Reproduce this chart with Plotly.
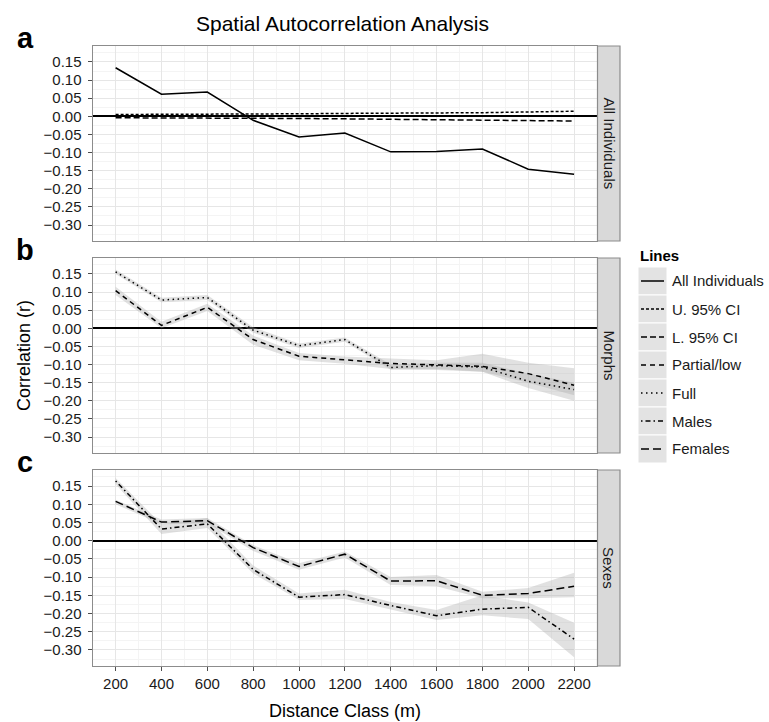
import plotly.graph_objects as go

# ---------------- data ----------------
distance = [200, 400, 600, 800, 1000, 1200, 1400, 1600, 1800, 2000, 2200]

all_individuals = [0.134, 0.061, 0.067, -0.011, -0.057, -0.046, -0.098, -0.097, -0.090, -0.146, -0.160]
upper_ci = [0.005, 0.005, 0.005, 0.006, 0.007, 0.008, 0.008, 0.009, 0.010, 0.012, 0.014]
lower_ci = [-0.004, -0.004, -0.004, -0.005, -0.006, -0.007, -0.008, -0.009, -0.010, -0.011, -0.013]

partial_low = [0.104, 0.008, 0.058, -0.031, -0.077, -0.086, -0.097, -0.101, -0.105, -0.125, -0.157]
partial_low_hi = [0.115, 0.018, 0.068, -0.020, -0.068, -0.078, -0.083, -0.088, -0.070, -0.095, -0.110]
partial_low_lo = [0.092, 0.000, 0.048, -0.045, -0.088, -0.098, -0.112, -0.115, -0.120, -0.150, -0.185]

full = [0.156, 0.078, 0.085, -0.005, -0.048, -0.031, -0.108, -0.103, -0.107, -0.146, -0.169]
full_hi = [0.162, 0.084, 0.092, 0.003, -0.042, -0.025, -0.100, -0.095, -0.095, -0.125, -0.150]
full_lo = [0.150, 0.072, 0.078, -0.012, -0.054, -0.037, -0.114, -0.112, -0.120, -0.165, -0.200]

males = [0.164, 0.032, 0.046, -0.079, -0.155, -0.148, -0.178, -0.206, -0.188, -0.183, -0.270]
males_hi = [0.172, 0.045, 0.062, -0.068, -0.145, -0.135, -0.168, -0.190, -0.150, -0.170, -0.225]
males_lo = [0.155, 0.018, 0.035, -0.090, -0.163, -0.160, -0.190, -0.218, -0.205, -0.215, -0.320]

females = [0.108, 0.051, 0.055, -0.019, -0.071, -0.037, -0.111, -0.110, -0.150, -0.145, -0.125]
females_hi = [0.112, 0.058, 0.062, -0.012, -0.062, -0.030, -0.100, -0.094, -0.140, -0.130, -0.088]
females_lo = [0.100, 0.045, 0.048, -0.028, -0.080, -0.046, -0.122, -0.125, -0.158, -0.158, -0.155]

facet_names = ["All Individuals", "Morphs", "Sexes"]
panel_letters = ["a", "b", "c"]
legend_labels = ["All Individuals", "U. 95% CI", "L. 95% CI", "Partial/low", "Full", "Males", "Females"]

# ---------------- styles ----------------
W, H = 769, 722
FONT = "Liberation Sans, Arial, Helvetica, sans-serif"
DASH = {
    "All Individuals": "solid",
    "U. 95% CI": "3px,2px",
    "L. 95% CI": "6px,3px",
    "Partial/low": "5px,4px",
    "Full": "1.5px,3.5px",
    "Males": "1.5px,3px,5px,3px",
    "Females": "8px,4px",
}
RIBBON = "rgba(170,170,170,0.35)"
LW = 1.5


def px_x(x):
    return x / W


def px_y(y):
    return 1 - y / H


# panel pixel boxes (top, bottom)
panels = [(46, 241), (258, 453), (470, 666)]
X_L, X_R = 92.7, 597
STRIP_R = 620

fig = go.Figure()


def add_line(idx, y, name):
    ax = "" if idx == 0 else str(idx + 1)
    fig.add_trace(go.Scatter(
        x=distance, y=y, mode="lines", name=name, showlegend=False,
        line=dict(color="black", width=LW, dash=DASH[name]),
        xaxis="x" + ax, yaxis="y" + ax, hoverinfo="x+y+name"))


def add_ribbon(idx, hi, lo, name):
    ax = "" if idx == 0 else str(idx + 1)
    xs = distance + distance[::-1]
    ys = hi + lo[::-1]
    fig.add_trace(go.Scatter(
        x=xs, y=ys, mode="lines", fill="toself", fillcolor=RIBBON,
        line=dict(width=0), showlegend=False, hoverinfo="skip", name=name,
        xaxis="x" + ax, yaxis="y" + ax))


# panel a
add_line(0, upper_ci, "U. 95% CI")
add_line(0, lower_ci, "L. 95% CI")
add_line(0, all_individuals, "All Individuals")
# panel b
add_ribbon(1, partial_low_hi, partial_low_lo, "Partial/low")
add_ribbon(1, full_hi, full_lo, "Full")
add_line(1, partial_low, "Partial/low")
add_line(1, full, "Full")
# panel c
add_ribbon(2, males_hi, males_lo, "Males")
add_ribbon(2, females_hi, females_lo, "Females")
add_line(2, males, "Males")
add_line(2, females, "Females")

tickfont = dict(family=FONT, size=15, color="#1a1a1a")
layout = dict(
    width=W, height=H, margin=dict(l=0, r=0, t=0, b=0),
    paper_bgcolor="white", plot_bgcolor="white",
    font=dict(family=FONT, color="black"),
    showlegend=False,
)

for i, (top, bot) in enumerate(panels):
    sx = "" if i == 0 else str(i + 1)
    layout["xaxis" + sx] = dict(
        domain=[px_x(X_L), px_x(X_R)], anchor="y" + sx,
        range=[100, 2300], tick0=200, dtick=200,
        showticklabels=(i == 2), ticks="outside" if i == 2 else "",
        ticklen=4, tickcolor="#4d4d4d", tickwidth=1,
        tickfont=tickfont,
        showgrid=True, gridcolor="#e6e6e6", gridwidth=1,
        minor=dict(dtick=100, tick0=100, showgrid=True, gridcolor="#f4f4f4", ticks=""),
        showline=True, mirror=True, linecolor="#8c8c8c", linewidth=1.3,
        zeroline=False,
    )
    layout["yaxis" + sx] = dict(
        domain=[px_y(bot), px_y(top)], anchor="x" + sx,
        range=[-0.344, 0.194], tick0=0, dtick=0.05, tickformat=".2f",
        ticks="outside", ticklen=4, tickcolor="#4d4d4d", tickwidth=1,
        tickfont=tickfont, ticklabelstandoff=3,
        showgrid=True, gridcolor="#e6e6e6", gridwidth=1,
        minor=dict(dtick=0.025, tick0=0.025, showgrid=True, gridcolor="#f4f4f4", ticks=""),
        showline=True, mirror=True, linecolor="#8c8c8c", linewidth=1.3,
        zeroline=True, zerolinecolor="black", zerolinewidth=1.6,
    )

shapes = []
annotations = []

# strips
for i, (top, bot) in enumerate(panels):
    shapes.append(dict(type="rect", xref="paper", yref="paper",
                       x0=px_x(X_R + 0.5), x1=px_x(STRIP_R), y0=px_y(bot), y1=px_y(top),
                       fillcolor="#d9d9d9", line=dict(color="#8c8c8c", width=1.2), layer="above"))
    annotations.append(dict(text=facet_names[i], xref="paper", yref="paper",
                            x=px_x((X_R + STRIP_R) / 2 + 0.5), y=px_y((top + bot) / 2),
                            textangle=90, showarrow=False,
                            font=dict(family=FONT, size=15, color="#1a1a1a"),
                            xanchor="center", yanchor="middle"))
    # panel letters (shared baseline relative to panel top)
    annotations.append(dict(text="<b>%s</b>" % panel_letters[i], xref="paper", yref="paper",
                            x=px_x(25), y=px_y(top + 10), showarrow=False,
                            font=dict(family=FONT, size=29, color="black"),
                            xanchor="center", yanchor="bottom"))

# title & axis titles
annotations.append(dict(text="Spatial Autocorrelation Analysis", xref="paper", yref="paper",
                        x=px_x(342), y=px_y(23), showarrow=False,
                        font=dict(family=FONT, size=21, color="black"),
                        xanchor="center", yanchor="middle"))
annotations.append(dict(text="Distance Class (m)", xref="paper", yref="paper",
                        x=px_x((X_L + X_R) / 2), y=px_y(711), showarrow=False,
                        font=dict(family=FONT, size=18, color="black"),
                        xanchor="center", yanchor="middle"))
annotations.append(dict(text="Correlation (r)", xref="paper", yref="paper",
                        x=px_x(24), y=px_y(356), textangle=-90, showarrow=False,
                        font=dict(family=FONT, size=18, color="black"),
                        xanchor="center", yanchor="middle"))

# manual legend
annotations.append(dict(text="<b>Lines</b>", xref="paper", yref="paper",
                        x=px_x(638), y=px_y(256), showarrow=False,
                        font=dict(family=FONT, size=15, color="black"),
                        xanchor="left", yanchor="middle"))
KEY_TOP, KEY_H = 267, 28
for j, lab in enumerate(legend_labels):
    y0 = KEY_TOP + j * KEY_H
    yc = y0 + KEY_H / 2
    shapes.append(dict(type="rect", xref="paper", yref="paper",
                       x0=px_x(638), x1=px_x(667), y0=px_y(y0 + KEY_H), y1=px_y(y0),
                       fillcolor="#e3e3e3", line=dict(color="white", width=1)))
    shapes.append(dict(type="line", xref="paper", yref="paper",
                       x0=px_x(641), x1=px_x(664), y0=px_y(yc), y1=px_y(yc),
                       line=dict(color="black", width=LW, dash=DASH[lab])))
    annotations.append(dict(text=lab, xref="paper", yref="paper",
                            x=px_x(670), y=px_y(yc), showarrow=False,
                            font=dict(family=FONT, size=15, color="#1a1a1a"),
                            xanchor="left", yanchor="middle"))

layout["shapes"] = shapes
layout["annotations"] = annotations
fig.update_layout(**layout)
fig.write_html("out.html")
